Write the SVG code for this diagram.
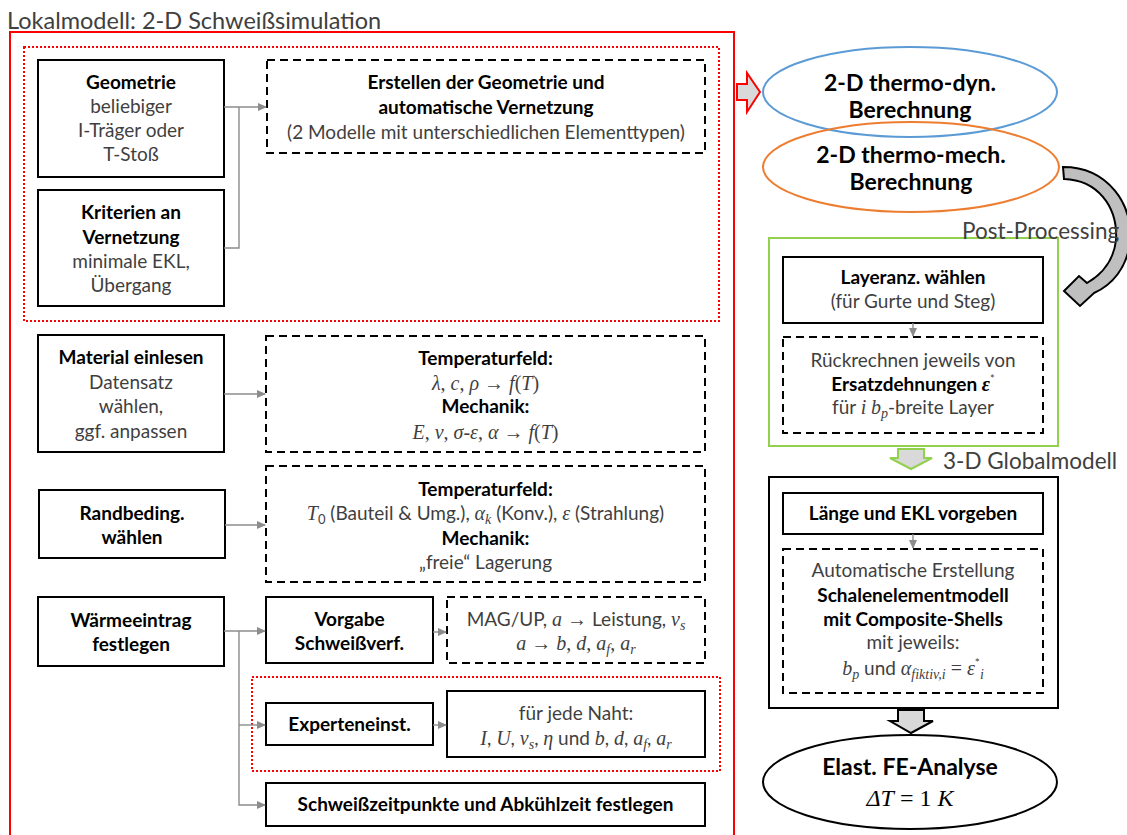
<svg xmlns="http://www.w3.org/2000/svg" width="1127" height="835" viewBox="0 0 1127 835">
<defs>
<style>
.bg{fill:#fff}
.box{fill:#fff;stroke:#000;stroke-width:2}
.dbox{fill:#fff;stroke:#000;stroke-width:2;stroke-dasharray:8,5}
.rdot{fill:none;stroke:#f00;stroke-width:2;stroke-dasharray:2,2}
.con{fill:none;stroke:#8c8c8c;stroke-width:1.4}
text{font-family:Lato,"Liberation Sans",sans-serif;fill:#3f3f3f}
.t{font-size:19px;text-anchor:middle}
.b{font-weight:bold;fill:#000}
.s{font-size:19px;text-anchor:middle}
.m{font-family:"Liberation Serif","DejaVu Serif",serif;font-style:italic;font-size:20px}
.n{font-style:normal}
.sub{font-size:14px}
.big{font-size:22.5px;fill:#404040}
.el{font-size:23px;font-weight:bold;fill:#000;text-anchor:middle}
</style>
<marker id="ah" markerWidth="9" markerHeight="8" refX="8" refY="4" orient="auto" markerUnits="userSpaceOnUse">
<path d="M0,0 L9,4 L0,8 z" fill="#8c8c8c"/>
</marker>
</defs>
<rect class="bg" x="0" y="0" width="1127" height="835"/>

<text class="big" x="7" y="29" style="font-size:23.5px">Lokalmodell: 2-D Schweißsimulation</text>
<rect x="10" y="32" width="724" height="820" fill="none" stroke="#f00" stroke-width="2"/>
<rect class="rdot" x="24" y="47" width="695" height="274"/>
<rect class="rdot" x="252" y="677" width="468" height="94"/>

<g id="geometrie">
<rect class="box" x="38" y="60" width="186" height="117"/>
<text class="t b" x="131" y="89">Geometrie</text>
<text class="t" x="131" y="113">beliebiger</text>
<text class="t" x="131" y="137">I-Träger oder</text>
<text class="t" x="131" y="161">T-Stoß</text>
</g>
<g id="kriterien">
<rect class="box" x="38" y="190" width="186" height="116"/>
<text class="t b" x="131" y="219">Kriterien an</text>
<text class="t b" x="131" y="244">Vernetzung</text>
<text class="t" x="131" y="268">minimale EKL,</text>
<text class="t" x="131" y="292">Übergang</text>
</g>
<g id="erstellen">
<rect class="dbox" x="267" y="60" width="438" height="93"/>
<text class="t b" x="486" y="89">Erstellen der Geometrie und</text>
<text class="t b" x="486" y="114">automatische Vernetzung</text>
<text class="t" x="486" y="139">(2 Modelle mit unterschiedlichen Elementtypen)</text>
</g>
<g id="material">
<rect class="box" x="38" y="335" width="186" height="117"/>
<text class="t b" x="131" y="364">Material einlesen</text>
<text class="t" x="131" y="389">Datensatz</text>
<text class="t" x="131" y="413">wählen,</text>
<text class="t" x="131" y="438">ggf. anpassen</text>
</g>
<g id="materialdaten">
<rect class="dbox" x="266" y="336" width="439" height="116"/>
<text class="t b" x="485.5" y="365">Temperaturfeld:</text>
<text class="t m" x="485.5" y="390">λ<tspan class="n">, </tspan>c<tspan class="n">, </tspan>ρ<tspan class="n"> → </tspan>f<tspan class="n">(</tspan>T<tspan class="n">)</tspan></text>
<text class="t b" x="485.5" y="413">Mechanik:</text>
<text class="t m" x="485.5" y="439">E<tspan class="n">, </tspan>ν<tspan class="n">, </tspan>σ<tspan class="n">-</tspan>ε<tspan class="n">, </tspan>α<tspan class="n"> → </tspan>f<tspan class="n">(</tspan>T<tspan class="n">)</tspan></text>
</g>
<g id="randbeding">
<rect class="box" x="39" y="490" width="186" height="68"/>
<text class="t b" x="132" y="520">Randbeding.</text>
<text class="t b" x="132" y="544">wählen</text>
</g>
<g id="randdaten">
<rect class="dbox" x="266" y="466" width="439" height="116"/>
<text class="t b" x="485.5" y="496">Temperaturfeld:</text>
<text class="t" x="485.5" y="520"><tspan class="m">T</tspan><tspan font-size="13" dy="4">0</tspan><tspan dy="-4"> (Bauteil &amp; Umg.), </tspan><tspan class="m">α</tspan><tspan class="m sub" dy="4">k</tspan><tspan dy="-4"> (Konv.), </tspan><tspan class="m">ε</tspan><tspan> (Strahlung)</tspan></text>
<text class="t b" x="485.5" y="545">Mechanik:</text>
<text class="t" x="485.5" y="569">„freie“ Lagerung</text>
</g>
<g id="waermeeintrag">
<rect class="box" x="38" y="597" width="186" height="69"/>
<text class="t b" x="131" y="627">Wärmeeintrag</text>
<text class="t b" x="131" y="651">festlegen</text>
</g>
<g id="vorgabe">
<rect class="box" x="266" y="597" width="167" height="66"/>
<text class="t b" x="349.5" y="626">Vorgabe</text>
<text class="t b" x="349.5" y="650">Schweißverf.</text>
</g>
<g id="mag">
<rect class="dbox" x="447" y="597" width="258" height="66"/>
<text class="t" x="576" y="626">MAG/UP, <tspan class="m">a</tspan><tspan class="m n"> → </tspan>Leistung, <tspan class="m">v</tspan><tspan class="m sub" dy="4">s</tspan></text>
<text class="t m" x="576" y="650">a<tspan class="n"> → </tspan>b<tspan class="n">, </tspan>d<tspan class="n">, </tspan>a<tspan class="sub" dy="4">f</tspan><tspan class="n" dy="-4">, </tspan>a<tspan class="sub" dy="4">r</tspan></text>
</g>
<g id="experten">
<rect class="box" x="266" y="703" width="167" height="42"/>
<text class="t b" x="349.5" y="731">Experteneinst.</text>
</g>
<g id="naht">
<rect class="box" x="447" y="691" width="258" height="66"/>
<text class="t" x="576" y="720">für jede Naht:</text>
<text class="t" x="576" y="745"><tspan class="m">I</tspan>, <tspan class="m">U</tspan>, <tspan class="m">v</tspan><tspan class="m sub" dy="4">s</tspan><tspan dy="-4">, </tspan><tspan class="m">η</tspan> und <tspan class="m">b</tspan>, <tspan class="m">d</tspan>, <tspan class="m">a</tspan><tspan class="m sub" dy="4">f</tspan><tspan dy="-4">, </tspan><tspan class="m">a</tspan><tspan class="m sub" dy="4">r</tspan></text>
</g>
<g id="schweisszeit">
<rect class="box" x="266" y="783" width="439" height="43"/>
<text class="t b" x="485.5" y="811">Schweißzeitpunkte und Abkühlzeit festlegen</text>
</g>

<g id="thermodyn">
<ellipse cx="910" cy="92" rx="147" ry="45" fill="none" stroke="#5b9bd5" stroke-width="2"/>
<text class="el" x="910" y="91">2-D thermo-dyn.</text>
<text class="el" x="910" y="118">Berechnung</text>
</g>
<g id="thermomech">
<ellipse cx="911" cy="167" rx="148" ry="45" fill="none" stroke="#ed7d31" stroke-width="2"/>
<text class="el" x="911" y="163">2-D thermo-mech.</text>
<text class="el" x="911" y="190">Berechnung</text>
</g>

<g id="postprocessing">
<rect x="769" y="238" width="289" height="208" fill="none" stroke="#92d050" stroke-width="2"/>
</g>
<g id="layeranz">
<rect class="box" x="783" y="257" width="260" height="66"/>
<text class="s b" x="913" y="284">Layeranz. wählen</text>
<text class="s" x="913" y="308">(für Gurte und Steg)</text>
</g>
<g id="rueckrechnen">
<rect class="dbox" x="783" y="337" width="260" height="96"/>
<text class="s" x="913" y="367">Rückrechnen jeweils von</text>
<text class="s" x="913" y="391"><tspan class="b">Ersatzdehnungen </tspan><tspan class="m b">ε</tspan><tspan font-size="11" dy="-8">*</tspan></text>
<text class="s" x="913" y="414">für <tspan class="m">i</tspan> <tspan class="m">b</tspan><tspan class="m sub" dy="4">p</tspan><tspan dy="-4">-breite Layer</tspan></text>
</g>
<text class="big" x="943" y="469">3-D Globalmodell</text>

<g id="globalmodell">
<rect x="769" y="477" width="289" height="231" fill="none" stroke="#000" stroke-width="2"/>
</g>
<g id="laenge">
<rect class="box" x="783" y="493" width="260" height="41"/>
<text class="s b" x="913" y="520">Länge und EKL vorgeben</text>
</g>
<g id="schalenmodell">
<rect class="dbox" x="783" y="549" width="260" height="144"/>
<text class="s" x="913" y="577">Automatische Erstellung</text>
<text class="s b" x="913" y="602">Schalenelementmodell</text>
<text class="s b" x="913" y="626">mit Composite-Shells</text>
<text class="s" x="913" y="649">mit jeweils:</text>
<text class="s" x="913" y="675"><tspan class="m">b</tspan><tspan class="m sub" dy="4">p</tspan><tspan dy="-4"> und </tspan><tspan class="m">α</tspan><tspan class="m sub" dy="4">fiktiv,i</tspan><tspan class="m n" dy="-4"> = </tspan><tspan class="m">ε</tspan><tspan font-size="12" dy="-8">*</tspan><tspan class="m sub" dy="12">i</tspan></text>
</g>
<g id="fe-analyse">
<ellipse cx="910" cy="782" rx="147" ry="47" fill="#fff" stroke="#000" stroke-width="2"/>
<text class="el" x="910" y="775">Elast. FE-Analyse</text>
<text class="el m" x="910" y="806" style="font-size:24px;font-weight:normal">ΔT<tspan class="n"> = 1 </tspan>K</text>
</g>

<g id="connectors">
<path class="con" d="M224,107 H266" marker-end="url(#ah)"/>
<path class="con" d="M224,248 H239 V107"/>
<path class="con" d="M224,394 H265" marker-end="url(#ah)"/>
<path class="con" d="M225,525 H265" marker-end="url(#ah)"/>
<path class="con" d="M224,631 H265" marker-end="url(#ah)"/>
<path class="con" d="M239,631 V805 H265" marker-end="url(#ah)"/>
<path class="con" d="M239,725 H265" marker-end="url(#ah)"/>
<path class="con" d="M433,632 H446" marker-end="url(#ah)"/>
<path class="con" d="M433,725 H446" marker-end="url(#ah)"/>
<path class="con" d="M913,323 V336" marker-end="url(#ah)"/>
<path class="con" d="M913,534 V548" marker-end="url(#ah)"/>
<path d="M737,84 H747 V73 L760,92 L747,112 V100 H737 Z" fill="#d9d9d9" stroke="#f00" stroke-width="2" stroke-linejoin="miter"/>
<path d="M1063,167 C1108,167 1134,205 1130,242 C1127,268 1112,285 1094,293 L1080,306 L1064,291 L1079,276 L1087,283 C1103,274 1114,259 1116,240 C1118,206 1097,180 1064,179 Z" fill="#bfbfbf" stroke="#000" stroke-width="2" stroke-linejoin="miter"/>
<path d="M898,449 H924 V458 H932 L911,469 L890,458 H898 Z" fill="#d9d9d9" stroke="#92d050" stroke-width="2"/>
<path d="M898,710 H924 V721 H933 L911,733 L890,721 H898 Z" fill="#d9d9d9" stroke="#000" stroke-width="2"/>
</g>
<text class="big" x="962" y="239">Post-Processing</text>
</svg>
